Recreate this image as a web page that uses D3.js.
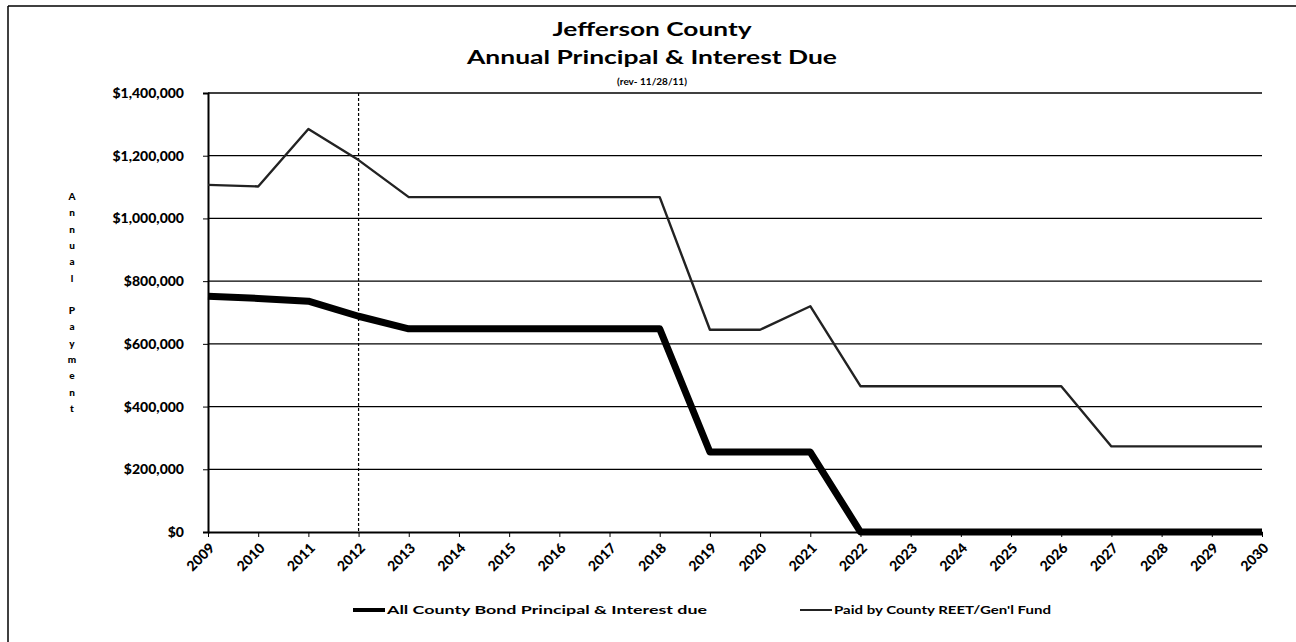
<!DOCTYPE html>
<html><head><meta charset="utf-8">
<script src="https://cdn.jsdelivr.net/npm/d3@7"></script>
<style>body{margin:0;background:#fff}svg{display:block}text{font-family:Lato,"Open Sans",sans-serif;font-weight:bold;fill:#000}</style>
</head><body><svg id="c" width="1296" height="642"></svg>
<script>
const years = [2009,2010,2011,2012,2013,2014,2015,2016,2017,2018,2019,2020,2021,2022,2023,2024,2025,2026,2027,2028,2029,2030];
const allCounty = [752000,745000,736000,688000,648000,648000,648000,648000,648000,648000,255000,255000,255000,0,0,0,0,0,0,0,0,0];
const paidCounty = [1107000,1102000,1285000,1186000,1068000,1068000,1068000,1068000,1068000,1068000,645000,645000,720000,465000,465000,465000,465000,465000,273000,273000,273000,273000];
const yTicks = [0,200000,400000,600000,800000,1000000,1200000,1400000];
const titleLines = ["Jefferson County","Annual Principal & Interest Due"];
const subtitle = "(rev- 11/28/11)";
const yTitle = "Annual Payment";
const legendLabels = ["All County Bond Principal & Interest due","Paid by County REET/Gen'l Fund"];
const markerYear = 2012;

const svg = d3.select("#c");
const L=208,R=1262,T=93,B=532;
const x = d3.scalePoint().domain(years).range([L,R]);
const y = d3.scaleLinear().domain([0,1400000]).range([B,T]);

// frame
svg.append("line").attr("x1",8).attr("x2",1296).attr("y1",6).attr("y2",6).attr("stroke","#000").attr("stroke-width",1.5);
svg.append("line").attr("x1",8).attr("x2",8).attr("y1",6).attr("y2",642).attr("stroke","#000").attr("stroke-width",1.5);

// titles
svg.append("text").attr("x",652).attr("y",36).attr("text-anchor","middle").attr("font-size",19).attr("textLength",199).attr("lengthAdjust","spacingAndGlyphs").text(titleLines[0]);
svg.append("text").attr("x",652).attr("y",64).attr("text-anchor","middle").attr("font-size",19).attr("textLength",370).attr("lengthAdjust","spacingAndGlyphs").text(titleLines[1]);
svg.append("text").attr("x",652).attr("y",85).attr("text-anchor","middle").attr("font-size",10).text(subtitle);

// gridlines
svg.append("g").selectAll("line").data(yTicks.filter(d=>d>0)).join("line")
  .attr("x1",L).attr("x2",R).attr("y1",d=>y(d)).attr("y2",d=>y(d)).attr("stroke","#000").attr("stroke-width",1.3);

// y axis
const ya = svg.append("g").attr("transform",`translate(${L},0)`).call(d3.axisLeft(y).tickValues(yTicks).tickSize(5).tickFormat(d=>"$"+d3.format(",")(d)));
ya.select(".domain").attr("stroke","#000").attr("stroke-width",2);
ya.selectAll("text").attr("font-size",14).attr("x",-24).style("font-family","Lato").style("font-weight","900");

// x axis
const xa = svg.append("g").attr("transform",`translate(0,${B})`).call(d3.axisBottom(x).tickSize(5).tickSizeOuter(0));
xa.select(".domain").attr("stroke","#000").attr("stroke-width",2);
xa.selectAll("text").attr("font-size",14).attr("text-anchor","end").attr("dy",0).attr("y",0)
  .attr("transform","translate(7,17) rotate(-45)").style("font-family","Lato").style("font-weight","900");

// marker line
svg.append("line").attr("x1",x(markerYear)).attr("x2",x(markerYear)).attr("y1",T).attr("y2",B)
  .attr("stroke","#000").attr("stroke-width",1.2).attr("stroke-dasharray","3,2");

// y axis title stacked
const chars = yTitle.split("");
svg.append("g").selectAll("text").data(chars).join("text")
  .attr("x",72).attr("y",(d,i)=>200+i*16.3).attr("text-anchor","middle").attr("font-size",10).style("font-weight","900").text(d=>d);

// lines
const line = d3.line().x((d,i)=>x(years[i])).y(d=>y(d));
svg.append("path").datum(paidCounty).attr("d",line).attr("fill","none").attr("stroke","#222").attr("stroke-width",2.4).attr("stroke-linejoin","round");
svg.append("path").datum(allCounty).attr("d",line).attr("fill","none").attr("stroke","#000").attr("stroke-width",7).attr("stroke-linejoin","round");

// legend
const lg = svg.append("g");
lg.append("line").attr("x1",353).attr("x2",385).attr("y1",610).attr("y2",610).attr("stroke","#000").attr("stroke-width",4);
lg.append("text").attr("x",387).attr("y",614).attr("font-size",12).attr("textLength",320).attr("lengthAdjust","spacingAndGlyphs").text(legendLabels[0]);
lg.append("line").attr("x1",800).attr("x2",832).attr("y1",610).attr("y2",610).attr("stroke","#222").attr("stroke-width",2);
lg.append("text").attr("x",834).attr("y",614).attr("font-size",12).attr("textLength",217).attr("lengthAdjust","spacingAndGlyphs").text(legendLabels[1]);
</script></body></html>
